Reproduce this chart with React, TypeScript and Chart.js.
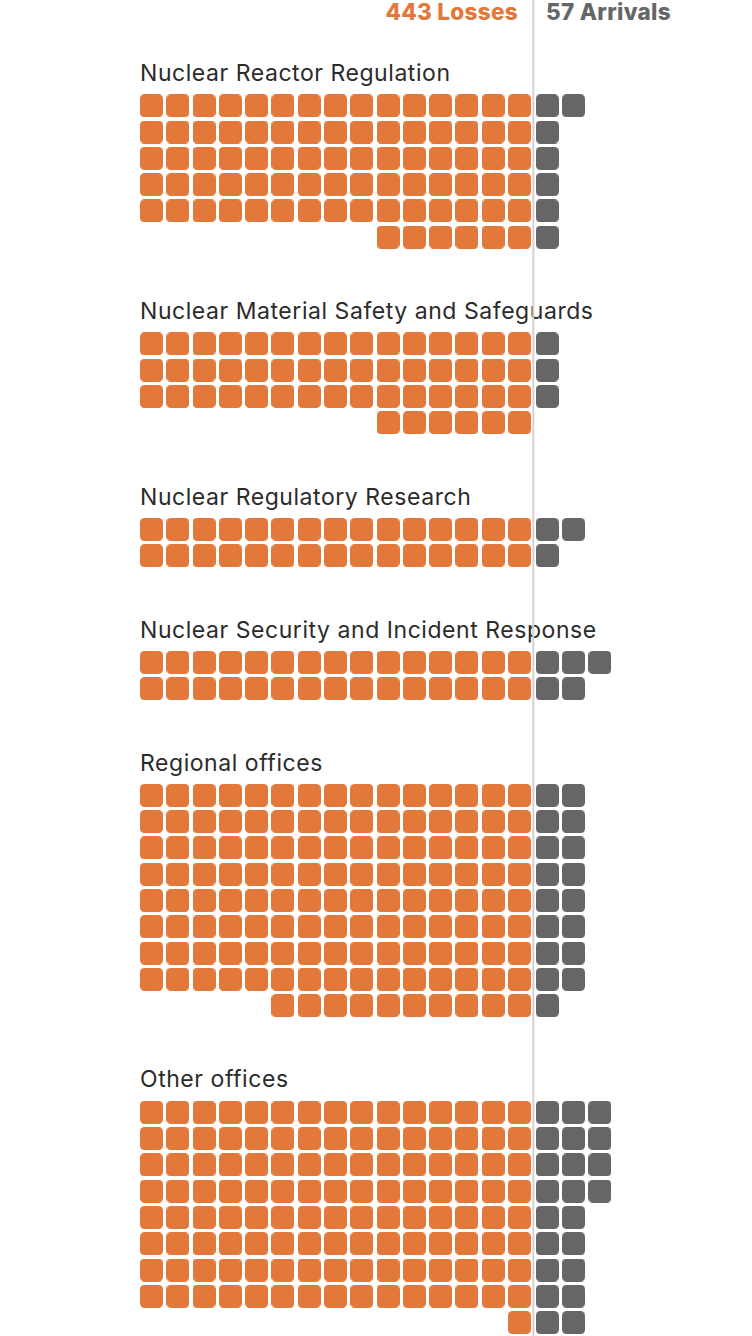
import React, { useEffect, useRef } from 'react';
import { Chart, registerables } from 'chart.js';

Chart.register(...registerables);

// ---- data ----
const offices = [
  'Nuclear Reactor Regulation',
  'Nuclear Material Safety and Safeguards',
  'Nuclear Regulatory Research',
  'Nuclear Security and Incident Response',
  'Regional offices',
  'Other offices',
];
const losses = [81, 51, 30, 30, 130, 121];
const arrivals = [7, 3, 3, 5, 17, 22];
const lossLabel = 'Losses';
const arrivalLabel = 'Arrivals';
const PER_ROW = 15;

// ---- styles ----
const ORANGE = '#E2783A';
const GREY = '#666666';
const LINE = '#D2D2D2';
const TEXT = '#2b2b2b';
const FONT = 'Inter, "Noto Sans", Roboto, sans-serif';

// ---- layout ----
const W = 752;
const H = 1336;
const CELL = 26.28;
const SQ = 23;
const X0 = 151.5;
const Y0 = 105.8;
const GROUP_GAP = 4.06;
const ARR_OFFSET = 0.06;

const sum = (a: number[]) => a.reduce((s, v) => s + v, 0);

function groupBases() {
  let base = 0;
  return offices.map((_, g) => {
    const rows = Math.ceil(losses[g] / PER_ROW);
    const b = base;
    base += rows - 1 + GROUP_GAP;
    return { base: b, rows };
  });
}

function makeSquare(color: string) {
  const c = document.createElement('canvas');
  c.width = SQ;
  c.height = SQ;
  const ctx = c.getContext('2d')!;
  ctx.fillStyle = color;
  ctx.beginPath();
  (ctx as any).roundRect(0, 0, SQ, SQ, 4.5);
  ctx.fill();
  return c;
}

export default function App() {
  const ref = useRef<HTMLCanvasElement>(null);
  const bases = groupBases();

  useEffect(() => {
    document.body.style.margin = '0';
    document.documentElement.style.overflow = 'hidden';
    const lossPts: { x: number; y: number }[] = [];
    const arrPts: { x: number; y: number }[] = [];
    bases.forEach(({ base, rows }, g) => {
      const n = losses[g];
      const lastCount = n - PER_ROW * (rows - 1);
      for (let i = 0; i < n; i++) {
        const row = Math.floor(i / PER_ROW);
        let col = i % PER_ROW;
        if (row === rows - 1) col = PER_ROW - lastCount + col;
        lossPts.push({ x: col, y: base + row });
      }
      for (let j = 0; j < arrivals[g]; j++) {
        const col = Math.floor(j / rows);
        const row = j % rows;
        arrPts.push({ x: PER_ROW + ARR_OFFSET + col, y: base + row });
      }
    });

    const dividerPlugin = {
      id: 'divider',
      afterDatasetsDraw(chart: any) {
        const x = chart.scales.x.getPixelForValue(PER_ROW - 0.5 + ARR_OFFSET / 2);
        const ctx = chart.ctx;
        ctx.save();
        ctx.strokeStyle = LINE;
        ctx.lineWidth = 2;
        ctx.beginPath();
        ctx.moveTo(x, 0);
        ctx.lineTo(x, chart.height);
        ctx.stroke();
        ctx.restore();
      },
    };

    const chart = new Chart(ref.current!, {
      type: 'scatter',
      data: {
        datasets: [
          {
            label: lossLabel,
            data: lossPts,
            pointStyle: makeSquare(ORANGE),
            pointRadius: 11,
            backgroundColor: ORANGE,
          },
          {
            label: arrivalLabel,
            data: arrPts,
            pointStyle: makeSquare(GREY),
            pointRadius: 11,
            backgroundColor: GREY,
          },
        ],
      },
      options: {
        animation: false,
        responsive: false,
        devicePixelRatio: 1,
        layout: { padding: 0, autoPadding: false },
        plugins: { legend: { display: false }, tooltip: { enabled: false } },
        scales: {
          x: { type: 'linear', display: false, min: -X0 / CELL, max: (W - X0) / CELL },
          y: { type: 'linear', display: false, reverse: true, min: -Y0 / CELL, max: (H - Y0) / CELL },
        },
      },
      plugins: [dividerPlugin],
    });
    return () => chart.destroy();
  }, []);

  const headStyle = {
    position: 'absolute' as const,
    top: 20 - 0.864 * 22.5,
    font: `800 22.5px ${FONT}`,
    lineHeight: '22.5px',
    letterSpacing: '0.3px',
    whiteSpace: 'nowrap' as const,
  };

  return (
    <div style={{ position: 'relative', width: W, height: H, overflow: 'hidden', background: '#fff' }}>
      <div style={{ ...headStyle, right: W - 518, color: ORANGE }}>{`${sum(losses)} ${lossLabel}`}</div>
      <div style={{ ...headStyle, left: 546, color: GREY }}>{`${sum(arrivals)} ${arrivalLabel}`}</div>
      {offices.map((name, g) => {
        const top = Y0 + bases[g].base * CELL - SQ / 2;
        return (
          <div
            key={name}
            style={{
              position: 'absolute', left: 140, top: top - 12.5 - 0.864 * 23, font: `400 23px ${FONT}`,
              lineHeight: '23px', letterSpacing: '0.55px', color: TEXT, whiteSpace: 'nowrap',
            }}
          >
            {name}
          </div>
        );
      })}
      <canvas ref={ref} width={W} height={H} style={{ position: 'absolute', left: 0, top: 0, width: W, height: H }} />
    </div>
  );
}
